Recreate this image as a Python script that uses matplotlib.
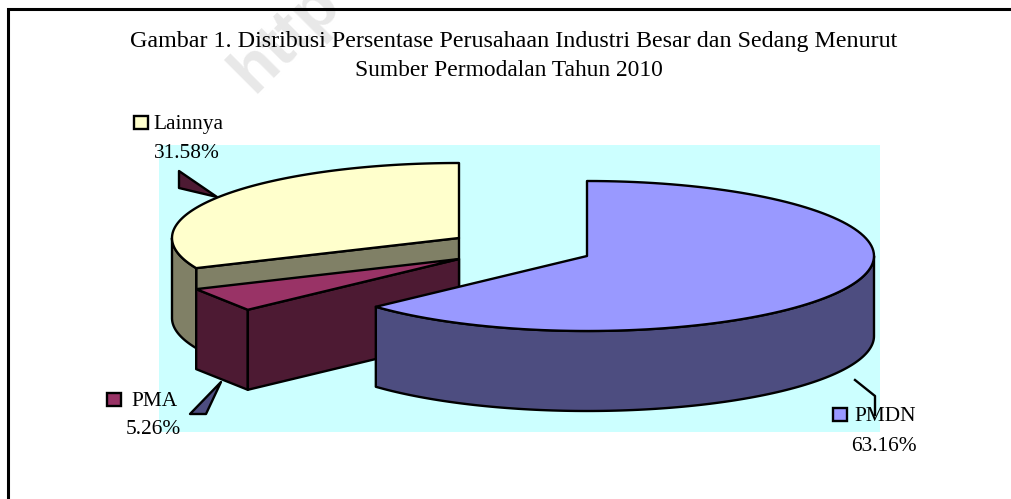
import numpy as np
import matplotlib
matplotlib.use("Agg")
import matplotlib.pyplot as plt
from matplotlib.patches import Rectangle

# Data
categories = ["PMDN", "PMA", "Lainnya"]
shares = [63.16, 5.26, 31.58]
share_labels = ["63.16%", "5.26%", "31.58%"]
title_lines = ["Gambar 1. Disribusi Persentase Perusahaan Industri Besar dan Sedang Menurut",
               "Sumber Permodalan Tahun 2010"]

# Styles / layout (pixel space of the picture)
top_colors = ["#9999FF", "#993366", "#FFFFCC"]
side_colors = ["#4D4D80", "#4D1A33", "#808066"]
centers = [(587, 256), (459, 259), (459, 238)]
RX, RY, DEPTH = 287, 75, 80
LW = 1.7

plt.rcParams["font.family"] = ["Liberation Serif", "DejaVu Serif"]
fig = plt.figure(figsize=(10.12, 4.99), dpi=100)
ax = fig.add_axes([0, 0, 1, 1])
ax.set_xlim(0, 1012)
ax.set_ylim(499, 0)
ax.axis("off")

# Watermark and frame
ax.text(253, 94, "http", rotation=45, rotation_mode="anchor", ha="left", va="baseline",
        fontsize=48, fontweight="bold", family="Liberation Sans", color="#E8E8E8", zorder=0)
ax.plot([8.5, 8.5, 1012], [499, 9, 9], color="black", lw=2.2, zorder=1, solid_joinstyle="miter")

# Plot area
ax.add_patch(Rectangle((159, 145), 721, 287, facecolor="#CCFFFF", edgecolor="none", zorder=1))

# Slice angles from the values (clockwise from 12 o'clock)
fractions = np.array(shares) / sum(shares)
edges = np.concatenate([[0], np.cumsum(fractions)]) * 2 * np.pi


def rim(center, a0, a1, dy=0.0, n=120):
    t = np.linspace(a0, a1, n)
    return center[0] + RX * np.sin(t), center[1] - RY * np.cos(t) + dy


def poly(xs, ys, color, z):
    ax.fill(xs, ys, facecolor=color, edgecolor="black", lw=LW, joinstyle="round", zorder=z)


def side(center, a0, a1, color, z, n=120):
    x, y = rim(center, a0, a1, n=n)
    xb, yb = rim(center, a1, a0, DEPTH, n=n)
    poly(np.r_[x, xb], np.r_[y, yb], color, z)


def cut(center, a, color, z):
    x, y = rim(center, a, a)
    x, y = x[0], y[0]
    poly([center[0], x, x, center[0]], [center[1], y, y + DEPTH, center[1] + DEPTH], color, z)


def top(center, a0, a1, color, z, n=120):
    x, y = rim(center, a0, a1, n=n)
    poly(np.r_[center[0], x], np.r_[center[1], y], color, z)


# Leader lines
poly([179, 179, 217], [171, 188, 197], side_colors[1], 2)
poly([190, 206, 221], [414, 414, 382], side_colors[0], 2)
ax.plot([855, 875, 875], [380, 396, 415], color="black", lw=LW, zorder=2)

# Lainnya
cut(centers[2], edges[2], side_colors[2], 3)
side(centers[2], edges[2], 1.5 * np.pi, side_colors[2], 3)
top(centers[2], edges[2], edges[3], top_colors[2], 4)
# PMA (the reference draws this short rim as straight segments)
side(centers[1], edges[1], edges[2], side_colors[1], 5, n=2)
cut(centers[1], edges[1], side_colors[1], 5)
top(centers[1], edges[1], edges[2], top_colors[1], 6, n=2)
# PMDN
side(centers[0], 0.5 * np.pi, edges[1], side_colors[0], 7)
top(centers[0], edges[0], edges[1], top_colors[0], 8)

# Title
ax.text(514, 47, title_lines[0], ha="center", va="baseline", fontsize=17.3, color="black", zorder=9)
ax.text(509, 76, title_lines[1], ha="center", va="baseline", fontsize=16.9, color="black", zorder=9)

# Data labels with legend keys
FS = 15.4
key_xy = [(833, 408), (107, 393), (134, 116)]
name_xy = [(854, 421), (131, 406), (153, 129)]
pct_xy = [(884, 451), (153, 434), (187, 158)]
for i in range(3):
    ax.add_patch(Rectangle(key_xy[i], 14, 13, facecolor=top_colors[i], edgecolor="black", lw=LW, zorder=9))
    ax.text(*name_xy[i], categories[i], ha="left", va="baseline", fontsize=FS, color="black", zorder=9)
    ax.text(*pct_xy[i], share_labels[i], ha="center", va="baseline", fontsize=FS, color="black", zorder=9)

fig.savefig("out.png", dpi=100)
